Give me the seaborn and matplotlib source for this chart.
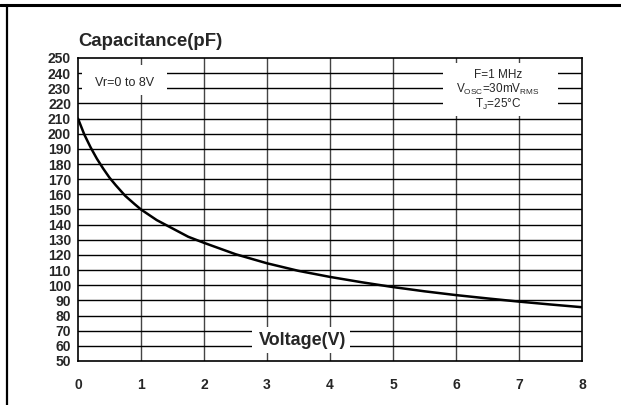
import matplotlib
matplotlib.use("Agg")
import matplotlib.pyplot as plt
from matplotlib.patches import Rectangle
import seaborn as sns
import pandas as pd

voltage = [0, 0.1, 0.2, 0.3, 0.4, 0.5, 0.6, 0.75, 0.9, 1, 1.25, 1.5, 1.75, 2, 2.5, 3, 3.5, 4, 4.5, 5, 5.5, 6, 6.5, 7, 7.5, 8]
capacitance = [210, 199.5, 191, 183.5, 177, 171, 166, 159, 153.5, 150, 143, 137.5, 132, 128, 120.5, 114.5, 109.5, 105.5, 102, 98.8, 96, 93.5, 91.3, 89.2, 87.3, 85.5]
x_ticks = [0, 1, 2, 3, 4, 5, 6, 7, 8]
y_ticks = list(range(50, 251, 10))
title_text = "Capacitance(pF)"
xlabel_text = "Voltage(V)"
range_text = "Vr=0 to 8V"
cond_text = "F=1 MHz\nV$_{\\mathrm{OSC}}$=30mV$_{\\mathrm{RMS}}$\nT$_{\\mathrm{J}}$=25°C"

sns.set_style("white")
plt.rcParams['font.family'] = ['Liberation Sans', 'DejaVu Sans']
plt.rcParams['mathtext.fontset'] = 'custom'
plt.rcParams['mathtext.rm'] = 'Liberation Sans'

df = pd.DataFrame({"V": voltage, "C": capacitance})

fig = plt.figure(figsize=(6.21, 4.05), dpi=100)
W, H = 621, 405
ax = fig.add_axes([78 / W, 1 - 361 / H, (582 - 78) / W, (361 - 58) / H])

sns.lineplot(data=df, x="V", y="C", ax=ax, color="black", linewidth=1.8, zorder=5)
for ln in ax.get_lines():
    ln.set_solid_joinstyle("round")
    ln.set_solid_capstyle("round")

ax.set_xlim(0, 8)
ax.set_ylim(50, 250)
ax.set_xticks(x_ticks)
ax.set_yticks(y_ticks)
ax.set_xticklabels([str(t) for t in x_ticks], fontweight="bold", fontsize=10)
ax.set_yticklabels([str(t) for t in y_ticks], fontweight="bold", fontsize=10)
ax.tick_params(axis="both", length=0)
ax.tick_params(axis="x", pad=12)
ax.tick_params(axis="y", pad=5)
ax.set_xlabel("")
ax.set_ylabel("")

for v in x_ticks[1:-1]:
    ax.axvline(v, color="#444444", linewidth=1.0, zorder=1)
for c in y_ticks[1:-1]:
    ax.axhline(c, color="black", linewidth=1.0, zorder=1)
for s in ax.spines.values():
    s.set_color("black")
    s.set_linewidth(1.2)

# white label boxes masking the grid
for (x0, x1, y0, y1) in [(0.063, 1.413, 225.6, 245.4),
                         (5.79, 7.62, 211.5, 246.7),
                         (2.762, 4.317, 55.3, 72.4)]:
    ax.add_patch(Rectangle((x0, y0), x1 - x0, y1 - y0, facecolor="white",
                           edgecolor="none", zorder=3))

ax.text(0.746, 233.5, range_text, fontsize=9, ha="center", va="center", zorder=4)
ax.text(6.667, 228.5, cond_text, fontsize=8.5, ha="center", va="center", zorder=4,
        linespacing=1.02)
ax.text(3.56, 63.5, xlabel_text, fontsize=13, fontweight="bold", ha="center", va="center",
        zorder=4)

fig.text(78 / W, 1 - 41 / H, title_text, fontsize=13.4, fontweight="bold", ha="left", va="center")

# frame lines of the document panel
fig.add_artist(plt.Line2D([0, 1], [1 - 4.5 / H, 1 - 4.5 / H], color="black", linewidth=2.2,
                          transform=fig.transFigure))
fig.add_artist(plt.Line2D([7 / W, 7 / W], [0, 1 - 4.5 / H], color="black", linewidth=1.6,
                          transform=fig.transFigure))

fig.savefig("out.png", dpi=100)
